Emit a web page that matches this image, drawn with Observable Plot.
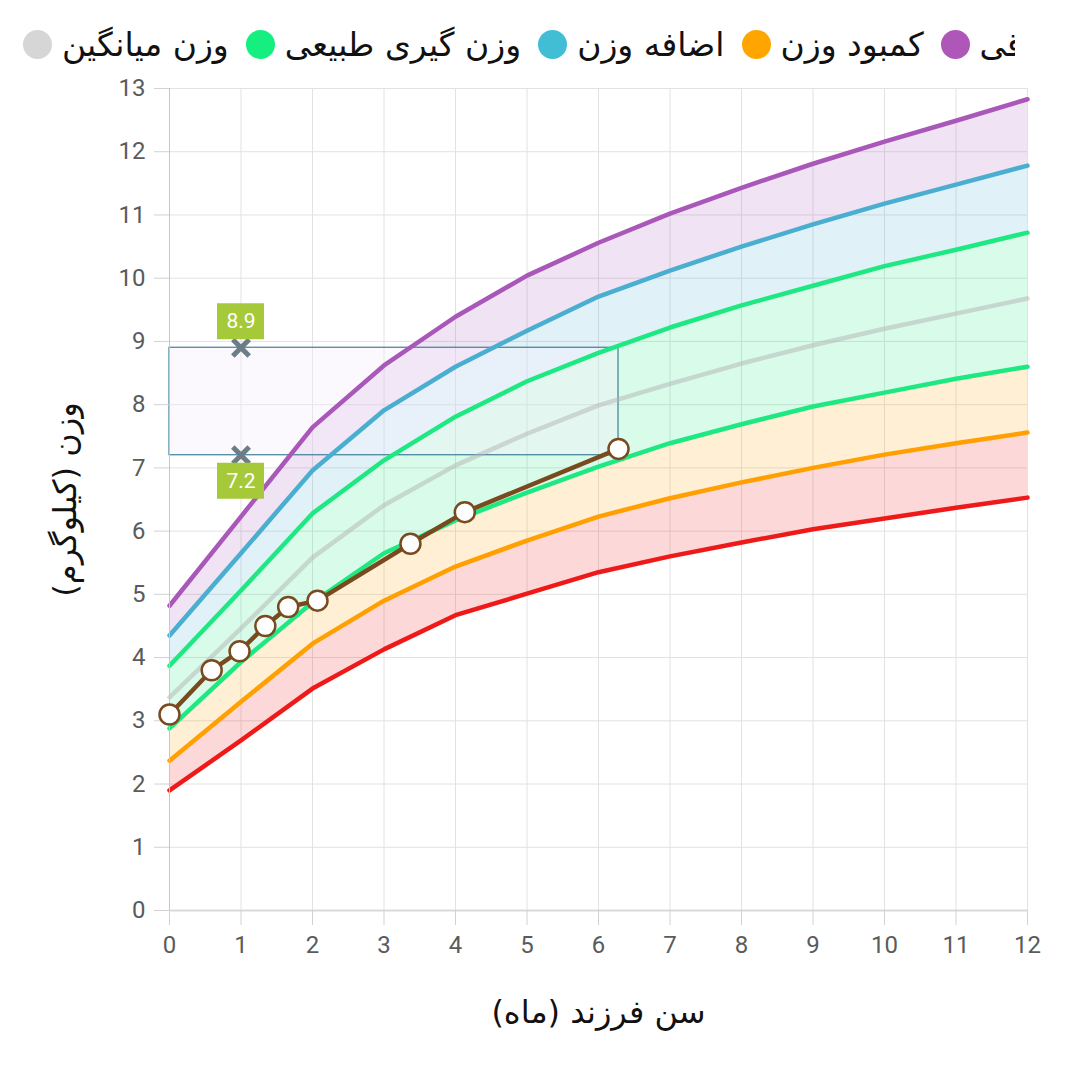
<!DOCTYPE html>
<html><head><meta charset="utf-8">
<script src="https://cdn.jsdelivr.net/npm/d3@7"></script>
<script src="https://cdn.jsdelivr.net/npm/@observablehq/plot@0.6"></script>
<style>
body{margin:0;background:#fff;}
#legend{height:80px;width:1015px;overflow:hidden;white-space:nowrap;display:flex;align-items:center;padding:8px 0 0 23px;box-sizing:border-box;font-family:"DejaVu Sans",sans-serif;font-size:33px;color:#111;}
.item{display:flex;align-items:center;margin-right:17px;flex:none}
.sw{width:29px;height:29px;border-radius:50%;margin-right:10px;flex:none}
</style></head><body>
<div id="legend"></div><div id="chart"></div>
<script>
// ---- data ----
const months = [0,1,2,3,4,5,6,7,8,9,10,11,12];
const severeUnder = [1.90,2.69,3.51,4.13,4.67,5.01,5.35,5.60,5.82,6.03,6.20,6.37,6.53];
const underweight = [2.37,3.30,4.22,4.90,5.44,5.85,6.23,6.52,6.77,7.00,7.21,7.39,7.56];
const normalLow   = [2.88,3.93,4.87,5.65,6.17,6.61,7.02,7.39,7.69,7.97,8.19,8.41,8.60];
const median      = [3.37,4.46,5.58,6.41,7.04,7.54,7.99,8.33,8.65,8.94,9.20,9.44,9.68];
const normalHigh  = [3.87,5.06,6.28,7.12,7.81,8.37,8.82,9.22,9.57,9.88,10.19,10.45,10.72];
const overweight  = [4.35,5.65,6.96,7.91,8.60,9.17,9.71,10.12,10.50,10.85,11.18,11.48,11.78];
const obese       = [4.82,6.23,7.64,8.62,9.39,10.04,10.56,11.02,11.43,11.81,12.16,12.49,12.83];

const childAges    = [0,0.59,0.98,1.34,1.66,2.07,3.37,4.13,6.28];
const childWeights = [3.1,3.8,4.1,4.5,4.8,4.9,5.8,6.3,7.3];

const markerAge = 1;
const markerHigh = 8.9;
const markerLow = 7.2;

const xTicks = [0,1,2,3,4,5,6,7,8,9,10,11,12];
const yTicks = [0,1,2,3,4,5,6,7,8,9,10,11,12,13];

const legendItems = [
  {label:"وزن میانگین", color:"#d6d6d6"},
  {label:"وزن گیری طبیعی", color:"#14ef80"},
  {label:"اضافه وزن", color:"#42bdd6"},
  {label:"کمبود وزن", color:"#ffa500"},
  {label:"چاقی", color:"#ae57b8"}
];
const xTitle = "سن فرزند (ماه)";
const yTitle = "وزن (کیلوگرم)";

// ---- legend ----
const lg = document.getElementById("legend");
for (const it of legendItems) {
  const d = document.createElement("div"); d.className = "item";
  const s = document.createElement("span"); s.className = "sw"; s.style.background = it.color;
  const t = document.createElement("span"); t.textContent = it.label; t.dir = "rtl";
  d.append(s, t); lg.append(d);
}

// ---- chart ----
const C = {red:"#ee1a1a", orange:"#ffa000", green:"#1ee882", blue:"#4aaed0", purple:"#a957b8", gray:"#b4b4b4", brown:"#7a4a1f"};
const bands = [
  {lo:severeUnder, hi:underweight, color:C.red},
  {lo:underweight, hi:normalLow, color:C.orange},
  {lo:normalLow, hi:normalHigh, color:C.green},
  {lo:normalHigh, hi:overweight, color:C.blue},
  {lo:overweight, hi:obese, color:C.purple}
];
const lines = [
  {v:severeUnder, color:C.red, op:1},
  {v:underweight, color:C.orange, op:1},
  {v:normalLow, color:C.green, op:1},
  {v:median, color:C.gray, op:0.5},
  {v:normalHigh, color:C.green, op:1},
  {v:overweight, color:C.blue, op:1},
  {v:obese, color:C.purple, op:1}
];
const child = childAges.map((a,i)=>({age:a, w:childWeights[i]}));
const box = [{x1:0, x2:childAges[childAges.length-1], y1:markerLow, y2:markerHigh}];
const markers = [{age:markerAge, v:markerHigh, dy:-26},{age:markerAge, v:markerLow, dy:26}];

const marks = [
  Plot.gridX(xTicks, {stroke:"#e2e2e2", strokeOpacity:1}),
  Plot.gridY(yTicks, {stroke:"#e2e2e2", strokeOpacity:1}),
  ...bands.map(b => Plot.areaY(months, {x:d=>d, y1:(d,i)=>b.lo[i], y2:(d,i)=>b.hi[i], fill:b.color, fillOpacity:0.17})),
  Plot.rect(box, {x1:"x1", x2:"x2", y1:"y1", y2:"y2", fill:"#f6eefc", fillOpacity:0.35, stroke:"#3e7f98", strokeWidth:1.2}),
  ...lines.map(l => Plot.line(months, {x:d=>d, y:(d,i)=>l.v[i], stroke:l.color, strokeWidth:4.5, strokeOpacity:l.op})),
  Plot.ruleY([0], {stroke:"#dadada", strokeWidth:2}),
  Plot.ruleX([0], {stroke:"#c6c6c6", strokeWidth:1}),
  Plot.axisX(xTicks, {tickSize:15, tickPadding:10, stroke:"#d2d2d2", fill:"#5b5b5b", label:null, fontSize:24, tickFormat:d=>String(d)}),
  Plot.axisY(yTicks, {tickSize:15, tickPadding:9, stroke:"#d2d2d2", fill:"#5b5b5b", label:null, fontSize:24, tickFormat:d=>String(d)}),
  Plot.line(child, {x:"age", y:"w", stroke:C.brown, strokeWidth:4.5}),
  Plot.dot(child, {x:"age", y:"w", r:10, fill:"#fff", stroke:C.brown, strokeWidth:2.5}),
  Plot.dot(markers, {x:"age", y:"v", symbol:"times", r:7.5, stroke:"#6b7d86", strokeWidth:5}),
  ...markers.map(m => Plot.rect([m], {x1:"age", x2:"age", y1:"v", y2:"v", insetLeft:-23.5, insetRight:-23.5, insetTop:-18, insetBottom:-18, dy:m.dy, fill:"#a6c93a"})),
  ...markers.map(m => Plot.text([m], {x:"age", y:"v", text:d=>d.v.toFixed(1), dy:m.dy, fill:"#fff", fontSize:21})),
  Plot.text([xTitle], {frameAnchor:"bottom", dy:102, lineAnchor:"middle", textAnchor:"middle", fontFamily:"DejaVu Sans", fontSize:32, fill:"#111"}),
  Plot.text([yTitle], {frameAnchor:"left", dx:-104, rotate:-90, lineAnchor:"middle", textAnchor:"middle", fontFamily:"DejaVu Sans", fontSize:32, fill:"#111"})
];

const chart = Plot.plot({
  width:1080, height:998,
  marginTop:8, marginBottom:168, marginLeft:169, marginRight:53,
  style:{fontFamily:"Roboto", fontSize:"24px", background:"#fff", overflow:"visible"},
  x:{domain:[0,12]},
  y:{domain:[0,13]},
  marks
});
document.getElementById("chart").append(chart);
</script>
</body></html>
